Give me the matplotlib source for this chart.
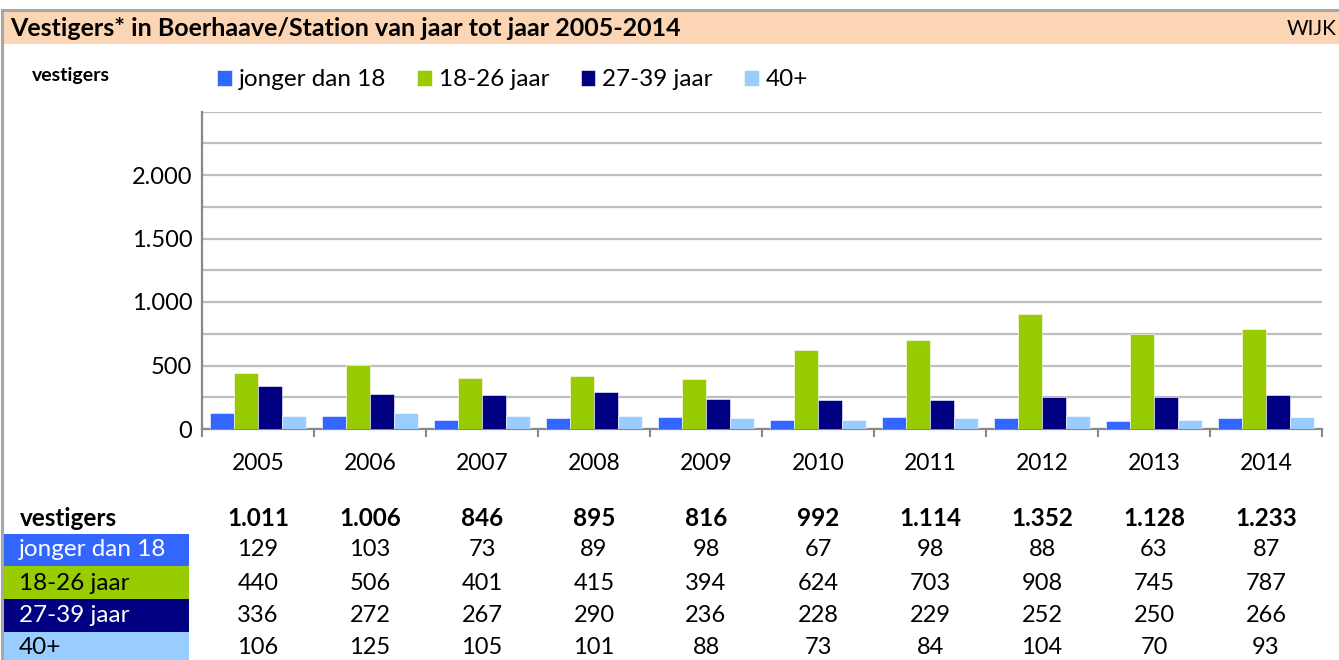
import matplotlib.pyplot as plt
from matplotlib.patches import Rectangle
from matplotlib.lines import Line2D
import matplotlib.transforms as mtransforms
import numpy as np

plt.rcParams['font.family'] = ['Lato', 'DejaVu Sans']

years = ['2005', '2006', '2007', '2008', '2009', '2010', '2011', '2012', '2013', '2014']
groups = ['jonger dan 18', '18-26 jaar', '27-39 jaar', '40+']
jonger_18 = [129, 103, 73, 89, 98, 67, 98, 88, 63, 87]
jaar_18_26 = [440, 506, 401, 415, 394, 624, 703, 908, 745, 787]
jaar_27_39 = [336, 272, 267, 290, 236, 228, 229, 252, 250, 266]
plus_40 = [106, 125, 105, 101, 88, 73, 84, 104, 70, 93]
colors = ['#3366FF', '#99CC00', '#000080', '#99CCFF']
label_text_colors = ['white', 'black', 'white', 'black']

series = [jonger_18, jaar_18_26, jaar_27_39, plus_40]
totals = [sum(v) for v in zip(*series)]


def nl(n):
    return f'{n:,}'.replace(',', '.')


W, H = 1339, 660
fig = plt.figure(figsize=(W / 100, H / 100), dpi=100)

# frame and header band
fig.add_artist(Rectangle((3 / W, 1 - 44 / H), (W - 3) / W, 32 / H, transform=fig.transFigure,
                         facecolor='#FCD5B5', edgecolor='none'))
fig.add_artist(Line2D([2 / W, 1], [1 - 10 / H, 1 - 10 / H], transform=fig.transFigure,
                      color='#A6A6A6', lw=2.2))
fig.add_artist(Line2D([2 / W, 2 / W], [0, 1 - 10 / H], transform=fig.transFigure,
                      color='#A6A6A6', lw=2.2))
fig.text(10 / W, 1 - 29 / H, 'Vestigers* in Boerhaave/Station van jaar tot jaar 2005-2014',
         fontsize=18, fontweight='bold', va='center', ha='left')
fig.text(1337 / W, 1 - 29 / H, 'WIJK', fontsize=15, va='center', ha='right')
fig.text(32 / W, 1 - 75 / H, 'vestigers', fontsize=14, fontweight='bold', va='center')

ax = fig.add_axes([202 / W, 1 - 429 / H, 1120 / W, (429 - 111.5) / H])
x = np.arange(len(years))
bw = 0.2125
for i, (vals, c) in enumerate(zip(series, colors)):
    ax.bar(x + (i - 1.5) * bw, vals, bw, color=c, edgecolor='white', linewidth=0.4,
           label=groups[i], zorder=3)

ax.set_xlim(-0.5, len(years) - 0.5)
ax.set_ylim(0, 2500)
ax.set_yticks([0, 500, 1000, 1500, 2000])
ax.set_yticklabels([nl(v) for v in [0, 500, 1000, 1500, 2000]], fontsize=17)
ax.set_yticks(np.arange(250, 2501, 250), minor=True)
ax.yaxis.grid(True, which='both', color='#BFBFBF', lw=1.6, zorder=0)
ax.tick_params(axis='y', which='both', length=0, pad=7)
ax.set_xticks(np.arange(-0.5, len(years)), minor=False)
ax.set_xticklabels([])
ax.tick_params(axis='x', direction='out', length=6, width=1.5, color='#888888')
for s in ['top', 'right']:
    ax.spines[s].set_visible(False)
for s in ['left', 'bottom']:
    ax.spines[s].set_color('#888888')
    ax.spines[s].set_linewidth(1.6)

# year labels and table underneath, columns follow the bar positions
tr = mtransforms.blended_transform_factory(ax.transData, fig.transFigure)
for xi, yr in zip(x, years):
    ax.text(xi, 1 - 463 / H, yr, transform=tr, ha='center', va='center', fontsize=16.5)

row_y = [518, 550, 583, 615, 647]
fig.text(20 / W, 1 - row_y[0] / H, 'vestigers', fontsize=17.5, fontweight='bold', va='center')
for xi, t in zip(x, totals):
    ax.text(xi, 1 - row_y[0] / H, nl(t), transform=tr, ha='center', va='center',
            fontsize=17.5, fontweight='bold')

cell_top = [534, 566, 599, 632]
cell_bot = [566, 599, 632, 662]
for i, vals in enumerate(series):
    fig.add_artist(Rectangle((4 / W, 1 - cell_bot[i] / H), 185 / W,
                             (cell_bot[i] - cell_top[i]) / H, transform=fig.transFigure,
                             facecolor=colors[i], edgecolor='none'))
    fig.text(19 / W, 1 - row_y[i + 1] / H, groups[i], fontsize=17.5,
             color=label_text_colors[i], va='center')
    for xi, v in zip(x, vals):
        ax.text(xi, 1 - row_y[i + 1] / H, nl(v), transform=tr, ha='center', va='center',
                fontsize=17)

leg = fig.legend(handles=ax.containers, labels=groups, loc='center left',
                 bbox_to_anchor=(217 / W, 1 - 80 / H), ncol=4, frameon=False,
                 fontsize=17.5, handlelength=0.6, handleheight=0.6, handletextpad=0.28,
                 columnspacing=1.3, borderaxespad=0, borderpad=0)

fig.savefig('out.png', dpi=100)
